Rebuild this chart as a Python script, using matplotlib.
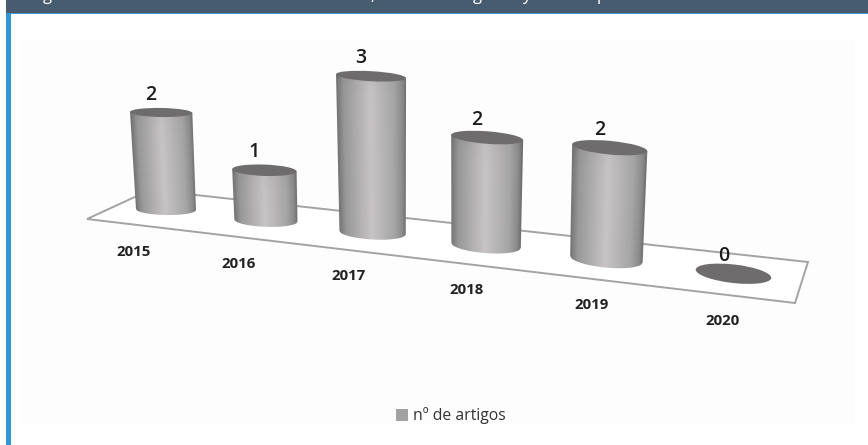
import numpy as np
import matplotlib
matplotlib.use("Agg")
from matplotlib import pyplot as plt
from matplotlib.colors import LinearSegmentedColormap
from matplotlib.patches import Ellipse, Patch, Polygon, Rectangle

plt.rcParams['font.family'] = ['Open Sans', 'DejaVu Sans']

anos = ['2015', '2016', '2017', '2018', '2019', '2020']
artigos = [2, 1, 3, 2, 2, 0]
legenda = 'nº de artigos'

cinza_topo = '#6f6c6e'
cinza_chao = '#a3a3a3'
cinza_legenda = '#a2a2a2'
sombra = LinearSegmentedColormap.from_list(
    'cilindro',
    [(0.0, '#747474'), (0.10, '#989898'), (0.48, '#c8c4c6'),
     (0.82, '#a6a6a6'), (0.94, '#8b8b8b'), (1.0, '#6c6c6c')])


# perspectiva do chao: posicao, tamanho e inclinacao dependem do indice da coluna
def base_x(i):
    return 166 + 96.5 * i + 3.4 * i ** 2


def base_y(i):
    return 209.5 + 10.6 * i + 0.45 * i ** 2


def raio_x(i):
    return 30 + 1.6 * i


def raio_y(i):
    return 5.5 + 0.75 * i


def unidade(i):
    return 48.5 + 1.8 * i


def desvio(i):
    return -0.05 + 0.02 * i


def angulo(i):
    return 1 + 1.1 * i


def cilindro(ax, i, valor):
    h = valor * unidade(i)
    ang = np.radians(angulo(i))
    topo_x = base_x(i) + desvio(i) * h
    topo_y = base_y(i) - h
    rx_topo = raio_x(i) + 0.012 * h
    ry_topo = raio_y(i) * (1 - 0.0018 * h)
    if valor > 0:
        # contorno do corpo: borda da tampa em cima, arco da base embaixo
        t = np.linspace(-1, 1, 60)
        arco = np.sqrt(1 - t ** 2)
        x_base = base_x(i) + t * raio_x(i) * np.cos(ang) - arco * raio_y(i) * np.sin(ang)
        y_base = base_y(i) + t * raio_x(i) * np.sin(ang) + arco * raio_y(i) * np.cos(ang)
        x_topo = topo_x + t * rx_topo * np.cos(ang)
        y_topo = topo_y + t * rx_topo * np.sin(ang)
        contorno = np.vstack([np.column_stack([x_base, y_base]),
                              np.column_stack([x_topo[::-1], y_topo[::-1]])])
        corpo = Polygon(contorno, closed=True, facecolor='none', edgecolor='none',
                        zorder=3 + i)
        ax.add_patch(corpo)

        # degrade calculado pixel a pixel, acompanhando a inclinacao do cilindro
        x0, x1 = contorno[:, 0].min() - 1, contorno[:, 0].max() + 1
        y0, y1 = contorno[:, 1].min() - 1, contorno[:, 1].max() + 1
        xx, yy = np.meshgrid(np.arange(x0, x1, 0.5), np.arange(y0, y1, 0.5))
        v = np.clip((base_y(i) - yy) / h, 0, 1)
        u = (xx - (base_x(i) + desvio(i) * h * v)) / (raio_x(i) + 0.012 * h * v)
        cor = sombra(np.clip((u + 1) / 2, 0, 1))
        escurece = 1 - 0.05 * np.exp(-(yy - topo_y) / 9)
        cor[..., :3] *= escurece[..., None]
        img = ax.imshow(cor, extent=(x0, x1, y1, y0), aspect='auto',
                        interpolation='bilinear', zorder=3 + i)
        img.set_clip_path(corpo)
    tampa = Ellipse((topo_x, topo_y), 2 * rx_topo, 2 * ry_topo, angle=angulo(i),
                    facecolor=cinza_topo, edgecolor='none', zorder=3.5 + i)
    ax.add_patch(tampa)
    return topo_x, topo_y


fig = plt.figure(figsize=(8.68, 4.45), dpi=100)
ax = fig.add_axes([0, 0, 1, 1])
ax.axis('off')

# moldura: cabecalho escuro e barra azul na esquerda
ax.add_patch(Rectangle((20, 40), 835, 385, facecolor='#fdfdfd', edgecolor='none', zorder=0))
ax.add_patch(Rectangle((6, 0), 862, 13, facecolor='#485c70', edgecolor='none', zorder=1))
ax.add_patch(Rectangle((6, 13), 862, 1.2, facecolor='#3a9ad0', edgecolor='none', zorder=1))
ax.add_patch(Rectangle((6, 13), 4.5, 432, facecolor='#2f97d6', edgecolor='none', zorder=1))

# restos do titulo, cortado pela borda de cima
for px, letra in [(47, 'g'), (372, ','), (477, 'g'), (526, 'y'), (602, 'p')]:
    ax.text(px, 0, letra, color='white', fontsize=12, ha='center', va='baseline', zorder=2)

# chao
chao = Polygon([(87, 219), (150, 190), (808, 262), (795, 303)], closed=True,
               facecolor='white', edgecolor=cinza_chao, linewidth=1.4, zorder=2)
ax.add_patch(chao)

for i, (ano, valor) in enumerate(zip(anos, artigos)):
    topo_x, topo_y = cilindro(ax, i, valor)
    ax.text(topo_x - 10, topo_y - 18, str(valor), fontsize=14, fontweight='semibold',
            color='#1c1c1c', ha='center', va='center', zorder=20)
    ax.text(base_x(i) - 32 + 4.2 * i, base_y(i) + 42 + i, ano, fontsize=10.8,
            fontweight='bold', color='#222222', ha='center', va='center', zorder=20)

ax.set_xlim(0, 868)
ax.set_ylim(445, 0)

ax.legend(handles=[Patch(facecolor=cinza_legenda, edgecolor='none', label=legenda)],
          loc='center', bbox_to_anchor=(451 / 868, 1 - 416 / 445), frameon=False,
          fontsize=11.3, handlelength=0.75, handleheight=0.75, handletextpad=0.35,
          labelcolor='#333333')

fig.savefig('out.png', dpi=100)
